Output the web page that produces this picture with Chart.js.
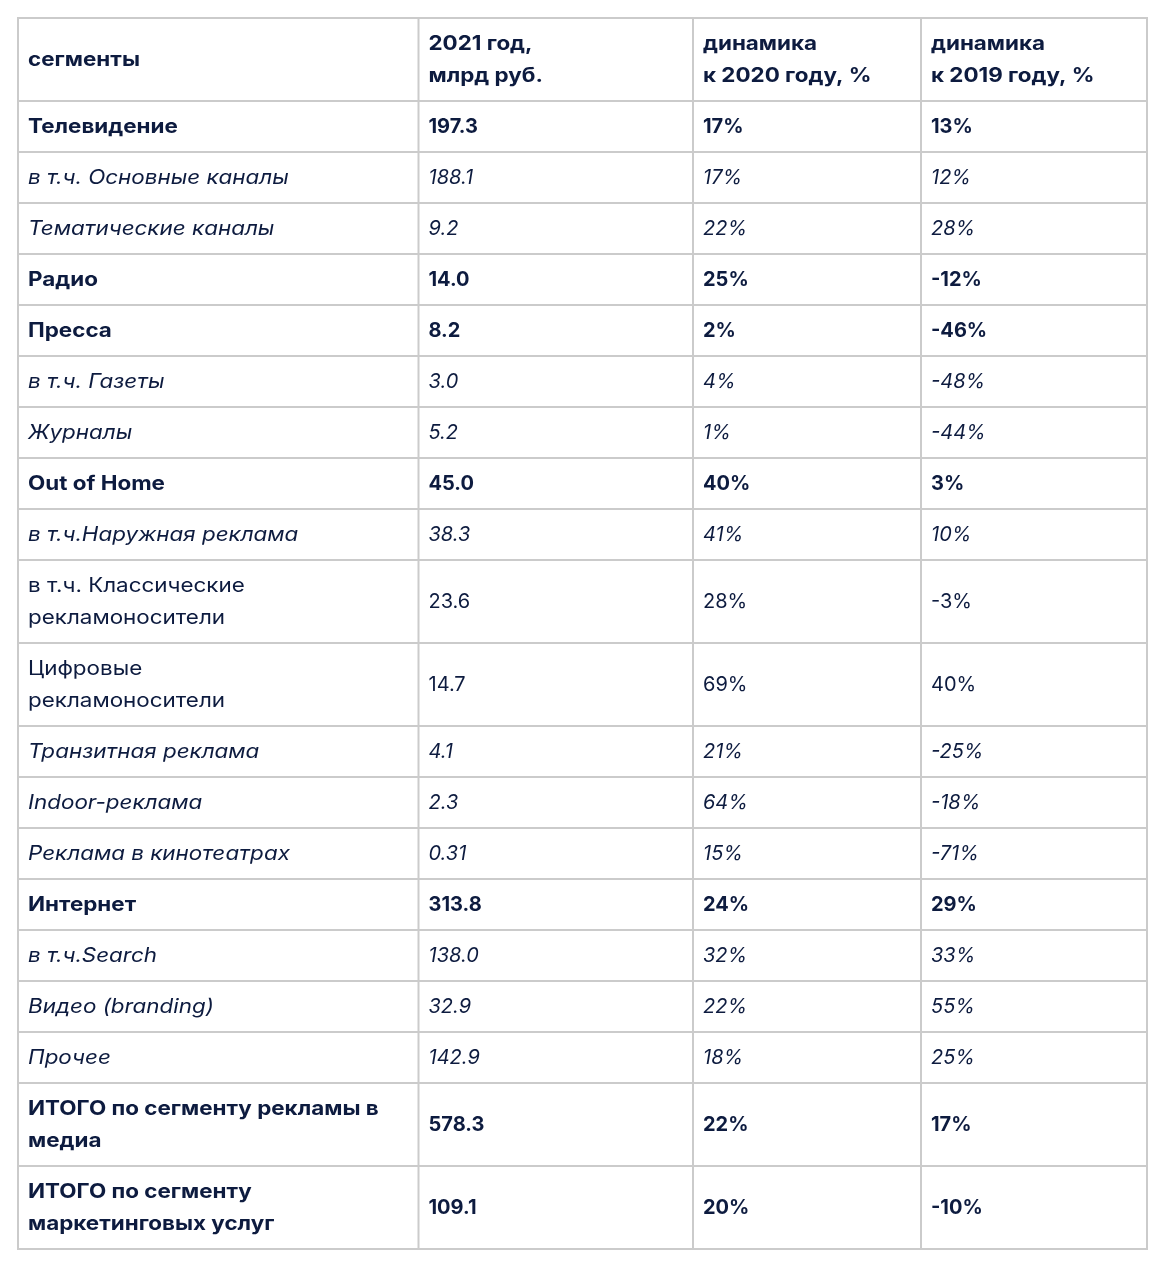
<!DOCTYPE html>
<html lang="ru">
<head>
<meta charset="utf-8">
<title>Рекламный рынок 2021</title>
<script src="https://cdn.jsdelivr.net/npm/chart.js@4/dist/chart.umd.min.js"></script>
<style>
  html, body { margin: 0; padding: 0; background: #fff; }
  #wrap { width: 1164px; height: 1266px; position: relative; }
</style>
</head>
<body>
<div id="wrap"><canvas id="tbl"></canvas></div>
<script>
// Данные таблицы
const headers = ['сегменты', '2021 год,\nмлрд руб.', 'динамика\nк 2020 году, %', 'динамика\nк 2019 году, %'];

const segments = [
    'Телевидение',
    'в т.ч. Основные каналы',
    'Тематические каналы',
    'Радио',
    'Пресса',
    'в т.ч. Газеты',
    'Журналы',
    'Out of Home',
    'в т.ч.Наружная реклама',
    'в т.ч. Классические\nрекламоносители',
    'Цифровые\nрекламоносители',
    'Транзитная реклама',
    'Indoor-реклама',
    'Реклама в кинотеатрах',
    'Интернет',
    'в т.ч.Search',
    'Видео (branding)',
    'Прочее',
    'ИТОГО по сегменту рекламы в\nмедиа',
    'ИТОГО по сегменту\nмаркетинговых услуг'
];

const values2021 = ['197.3', '188.1', '9.2', '14.0', '8.2', '3.0', '5.2', '45.0', '38.3', '23.6',
    '14.7', '4.1', '2.3', '0.31', '313.8', '138.0', '32.9', '142.9', '578.3', '109.1'];

const dyn2020 = [17, 17, 22, 25, 2, 4, 1, 40, 41, 28, 69, 21, 64, 15, 24, 32, 22, 18, 22, 20];
const dyn2019 = [13, 12, 28, -12, -46, -48, -44, 3, 10, -3, 40, -25, -18, -71, 29, 33, 55, 25, 17, -10];

// b = жирный, i = курсив, n = обычный
const rowStyles = ['b', 'i', 'i', 'b', 'b', 'i', 'i', 'b', 'i', 'n', 'n', 'i', 'i', 'i', 'b', 'i', 'i', 'i', 'b', 'b'];

// Оформление
const colWidths = [400.5, 274.5, 228, 226];
const lineH = 32;
const rowPad = 19;
const textColor = '#0d1b3f';
const borderColor = '#cbcbcb';
const fontFamily = 'Inter, "Noto Sans", sans-serif';
const wideText = 1.12; // буквы в оригинале шире, чем у Inter

// Строки таблицы
const rows = [{ cells: headers, style: 'b' }];
segments.forEach((s, i) => {
    rows.push({
        cells: [s, values2021[i], dyn2020[i] + '%', dyn2019[i] + '%'],
        style: rowStyles[i]
    });
});
rows.forEach(r => {
    r.lines = Math.max(...r.cells.map(c => c.split('\n').length));
    r.height = rowPad + lineH * r.lines;
});

const rowEdges = [0];
rows.forEach(r => rowEdges.push(rowEdges[rowEdges.length - 1] + r.height));
const colEdges = [0];
colWidths.forEach(w => colEdges.push(colEdges[colEdges.length - 1] + w));

const tablePlugin = {
    id: 'tablePlugin',
    afterDraw(chart) {
        const ctx = chart.ctx;
        const xs = chart.scales.x;
        const ys = chart.scales.y;
        const px = v => xs.getPixelForValue(v);
        const py = v => ys.getPixelForValue(v);

        ctx.save();
        // текст ячеек
        ctx.fillStyle = textColor;
        ctx.textBaseline = 'middle';
        ctx.textAlign = 'left';
        rows.forEach((r, ri) => {
            const weight = r.style === 'b' ? '700' : '400';
            const italic = r.style === 'i' ? 'italic ' : '';
            ctx.font = `${italic}${weight} 20px ${fontFamily}`;
            const yMid = (py(rowEdges[ri]) + py(rowEdges[ri + 1])) / 2;
            r.cells.forEach((c, ci) => {
                const lines = c.split('\n');
                const x = px(colEdges[ci]) + 10;
                const sx = /[A-Za-zА-Яа-яЁё]/.test(c) ? wideText : 1;
                lines.forEach((ln, li) => {
                    const y = yMid + (li - (lines.length - 1) / 2) * lineH;
                    ctx.save();
                    ctx.translate(x, y);
                    ctx.scale(sx, 1);
                    ctx.fillText(ln, 0, 0);
                    ctx.restore();
                });
            });
        });

        // линии сетки
        ctx.strokeStyle = borderColor;
        ctx.lineWidth = 2;
        ctx.beginPath();
        rowEdges.forEach(v => {
            ctx.moveTo(px(0) - 1, py(v));
            ctx.lineTo(px(colEdges[colEdges.length - 1]) + 1, py(v));
        });
        colEdges.forEach(v => {
            ctx.moveTo(px(v), py(0) - 1);
            ctx.lineTo(px(v), py(rowEdges[rowEdges.length - 1]) + 1);
        });
        ctx.stroke();
        ctx.restore();
    }
};

new Chart(document.getElementById('tbl'), {
    type: 'scatter',
    data: { datasets: [{ data: [] }] },
    options: {
        responsive: true,
        maintainAspectRatio: false,
        animation: false,
        layout: { padding: { left: 18, right: 17, top: 18, bottom: 17 } },
        plugins: { legend: { display: false }, tooltip: { enabled: false } },
        scales: {
            x: { type: 'linear', display: false, min: 0, max: colEdges[colEdges.length - 1] },
            y: { type: 'linear', display: false, reverse: true, min: 0, max: rowEdges[rowEdges.length - 1] }
        }
    },
    plugins: [tablePlugin]
});
</script>
</body>
</html>
